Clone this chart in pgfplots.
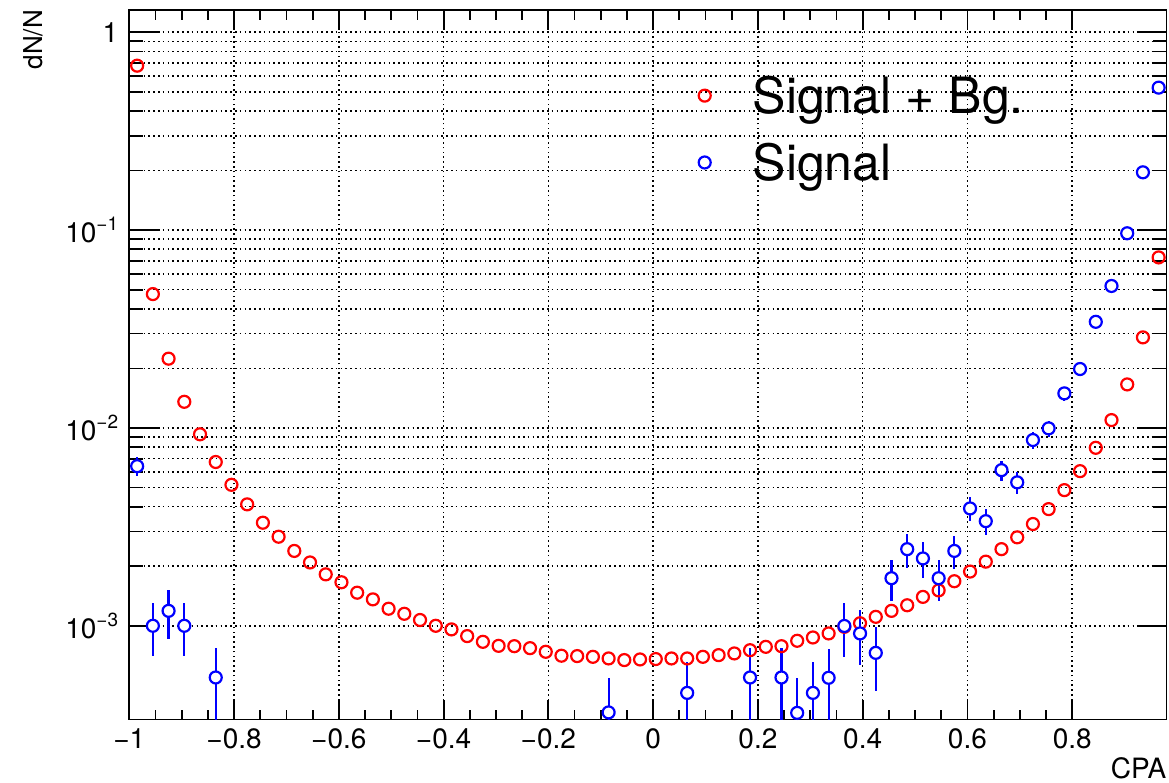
\documentclass[border=0pt]{standalone}
\usepackage{pgfplots}
\pgfplotsset{compat=1.18}
\usepackage{pgfplotstable}
\usepackage{fontspec}
\setmainfont{TeX Gyre Heros}
\newcommand\sups[1]{\raisebox{0.41em}{\fontsize{19}{19}\selectfont #1}}
\pgfplotstableread{
x y
-0.985 0.678
-0.955 0.0475
-0.925 0.0224
-0.895 0.01356
-0.865 0.00929
-0.835 0.00673
-0.805 0.00516
-0.775 0.00411
-0.745 0.00332
-0.715 0.00282
-0.685 0.00239
-0.655 0.00209
-0.625 0.00182
-0.595 0.00166
-0.565 0.00147
-0.535 0.00136
-0.505 0.00122
-0.475 0.00115
-0.445 0.00107
-0.415 0.00100
-0.385 0.000959
-0.355 0.000887
-0.325 0.000830
-0.295 0.000792
-0.265 0.000789
-0.235 0.000771
-0.205 0.000739
-0.175 0.000706
-0.145 0.000703
-0.115 0.000697
-0.085 0.000684
-0.055 0.000671
-0.025 0.000676
0.005 0.000679
0.035 0.000684
0.065 0.000684
0.095 0.000697
0.125 0.000711
0.155 0.000725
0.185 0.000753
0.215 0.000783
0.245 0.000789
0.275 0.000840
0.305 0.000873
0.335 0.000915
0.365 0.000988
0.395 0.00103
0.425 0.00111
0.455 0.00119
0.485 0.00127
0.515 0.00140
0.545 0.00151
0.575 0.00168
0.605 0.00188
0.635 0.00211
0.665 0.00244
0.695 0.00280
0.725 0.00327
0.755 0.00389
0.785 0.00485
0.815 0.00605
0.845 0.00794
0.875 0.01096
0.905 0.0166
0.935 0.0287
0.965 0.0728
}\sigbg
\pgfplotstableread{
x y e
-0.985 0.00641 0.0007
-0.955 0.00100 0.0003
-0.925 0.00119 0.00033
-0.895 0.00100 0.0003
-0.835 0.000548 0.00022
-0.085 0.000365 0.00018
0.065 0.000458 0.0002
0.185 0.000548 0.00022
0.245 0.000548 0.00022
0.275 0.000363 0.00018
0.305 0.000458 0.0002
0.335 0.000546 0.00022
0.365 0.000998 0.0003
0.395 0.000915 0.00028
0.425 0.000730 0.00026
0.455 0.00174 0.0004
0.485 0.00244 0.00047
0.515 0.00219 0.00045
0.545 0.00174 0.0004
0.575 0.00239 0.00046
0.605 0.00392 0.00055
0.635 0.00338 0.0005
0.665 0.00612 0.0007
0.695 0.00531 0.0007
0.725 0.00869 0.0009
0.755 0.00995 0.00095
0.785 0.01496 0.0012
0.815 0.01986 0.0013
0.845 0.0344 0.0018
0.875 0.0522 0.0022
0.905 0.0964 0.003
0.935 0.196 0.0042
0.965 0.525 0.0069
}\sig
\begin{document}
\begin{tikzpicture}
\path[use as bounding box] (-129.3pt,-62.5pt) rectangle (1039.7pt,719.5pt);
\begin{axis}[
  scale only axis, width=1037.2pt, height=709.5pt,
  xmin=-1, xmax=0.98, ymode=log, ymin=3.36e-4, ymax=1.296,
  axis line style={line width=1.8pt, black},
  tick style={line width=1.8pt, black},
  xtick={-1,-0.8,-0.6,-0.4,-0.2,0,0.2,0.4,0.6,0.8},
  xticklabels={−1,−0.8,−0.6,−0.4,−0.2,0,0.2,0.4,0.6,0.8},
  minor x tick num=3,
  ytick={0.001,0.01,0.1,1},
  yticklabels={10\sups{−3},10\sups{−2},10\sups{−1},1},
  xtick style={/pgfplots/major tick length=20pt,/pgfplots/minor tick length=10pt},
  ytick style={/pgfplots/major tick length=30pt,/pgfplots/minor tick length=14pt},
  xmajorgrids, ymajorgrids, yminorgrids,
  major grid style={black, line width=1.6pt, dash pattern=on 1.6pt off 3.2pt},
  minor grid style={black, line width=1.6pt, dash pattern=on 1.6pt off 3.2pt},
  ticklabel style={font=\fontsize{28}{28}\selectfont},
  xticklabel style={inner sep=0pt, anchor=north, yshift=-8.5pt},
  yticklabel style={inner sep=0pt, anchor=east, xshift=-11pt},
  xlabel={CPA},
  ylabel={dN/N},
  xlabel style={font=\fontsize{28}{28}\selectfont, at={(axis description cs:1,-0.0825)}, anchor=base east, inner sep=0pt},
  ylabel style={font=\fontsize{26}{26}\selectfont, at={(axis description cs:-0.0839,1)}, anchor=base east, inner sep=0pt},
  legend image code/.code={\draw[#1] plot[only marks] coordinates {(0pt,0pt)};},
  legend style={draw=none, fill=none, at={(axis description cs:0.5488,0.9098)}, anchor=north west,
    font=\fontsize{50}{50}\selectfont, inner sep=0pt, row sep=24pt, column sep=40pt,
    cells={anchor=west}},
]
\addplot[only marks, mark=o, mark size=6pt, red, mark options={line width=2.2pt}] table[x=x,y=y] {\sigbg};
\addplot[only marks, mark=*, mark size=6pt, blue, mark options={draw=blue, fill=white, line width=2.2pt},
  error bars/.cd, y dir=both, y explicit, error mark=none,
  error bar style={line width=2.2pt, blue}] table[x=x,y=y,y error=e] {\sig};
\legend{Signal + Bg., Signal}
\end{axis}
\end{tikzpicture}
\end{document}
